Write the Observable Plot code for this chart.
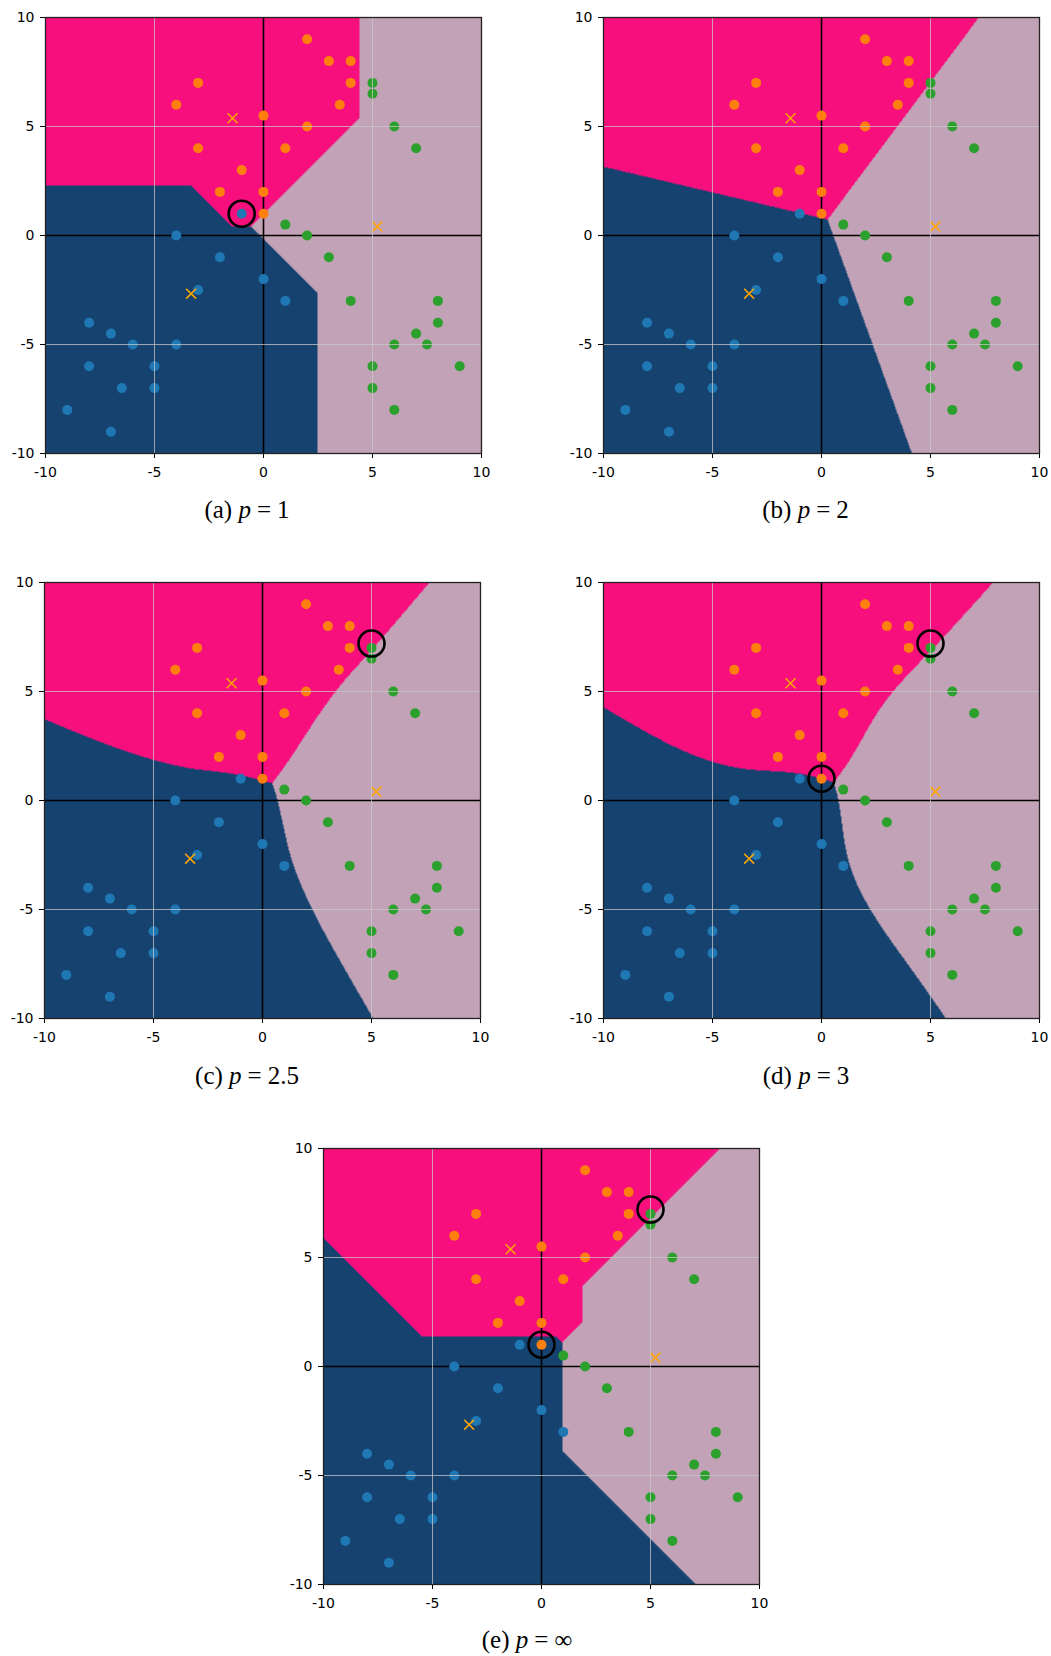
<!DOCTYPE html>
<html><head><meta charset="utf-8">
<script src="https://cdn.jsdelivr.net/npm/d3@7"></script>
<script src="https://cdn.jsdelivr.net/npm/@observablehq/plot@0.6"></script>
<style>
html,body{margin:0;padding:0;background:#fff;overflow:hidden;}
#root{position:relative;width:1051px;height:1656px;}
.panel{position:absolute;}
.cap{position:absolute;width:300px;text-align:center;font-family:"Liberation Serif","DejaVu Serif",serif;font-size:25px;line-height:25px;color:#000;white-space:nowrap;}
.cap i{font-style:italic;}
.cap .eq{padding:0 6px;}
</style></head><body><div id="root"></div>
<script>
// ---- data ----
const classNames = ["class A", "class B", "class C"]; // blue, orange, green
const blueX = [-1, -4, -2, -3, 0, 1, -8, -7, -6, -4, -8, -5, -6.5, -5, -9, -7];
const blueY = [1, 0, -1, -2.5, -2, -3, -4, -4.5, -5, -5, -6, -6, -7, -7, -8, -9];
const orangeX = [2, 3, 4, 4, 3.5, -3, -4, -3, 0, 2, 1, -1, -2, 0, 0];
const orangeY = [9, 8, 8, 7, 6, 7, 6, 4, 5.5, 5, 4, 3, 2, 2, 1];
const greenX = [5, 5, 6, 7, 1, 2, 3, 4, 8, 8, 7, 6, 7.5, 5, 5, 9, 6];
const greenY = [7, 6.5, 5, 4, 0.5, 0, -1, -3, -3, -4, -4.5, -5, -5, -6, -7, -6, -8];
// prototypes (x markers), in class order blue, orange, green
const protoX = [-3.32, -1.42, 5.22];
const protoY = [-2.67, 5.38, 0.41];
// panels: metric p and highlighted points
const pValues = [1, 2, 2.5, 3, Infinity];
const pLabels = ["1", "2", "2.5", "3", "∞"];
const panelIds = ["a", "b", "c", "d", "e"];
const highlightX = [[-1], [], [5], [5, 0], [5, 0]];
const highlightY = [[1], [], [7.2], [7.2, 1], [7.2, 1]];
const tickValues = [-10, -5, 0, 5, 10];

// ---- styles / layout ----
const regionColors = ["#16426F", "#F80F7E", "#C2A2B6"];
const pointColors = ["#1f77b4", "#ff7f0e", "#2ca02c"];
const frameLeft = [44.7, 602.6, 44.3, 603, 323.3];
const frameTop = [16.7, 16.7, 582.4, 582.4, 1148.3];
const capCenter = [247, 805.5, 247, 806, 527];
const capBaseline = [518, 518, 1084, 1084, 1648];
const FW = 436, FH = 436;
const ML = 50, MT = 18, MR = 12, MB = 40;

function classify(x, y, p) {
  let best = 0, bd = Infinity;
  for (let i = 0; i < protoX.length; i++) {
    const dx = Math.abs(x - protoX[i]), dy = Math.abs(y - protoY[i]);
    const d = p === Infinity ? Math.max(dx, dy) : Math.pow(dx, p) + Math.pow(dy, p);
    if (d < bd) { bd = d; best = i; }
  }
  return classNames[best];
}

const toPts = (xs, ys) => xs.map((x, i) => ({x, y: ys[i]}));
const bluePts = toPts(blueX, blueY);
const orangePts = toPts(orangeX, orangeY);
const greenPts = toPts(greenX, greenY);
const protoPts = toPts(protoX, protoY);

const root = document.getElementById("root");

pValues.forEach((p, k) => {
  const circ = toPts(highlightX[k], highlightY[k]);
  const plot = Plot.plot({
    width: ML + FW + MR,
    height: MT + FH + MB,
    marginLeft: ML, marginTop: MT, marginRight: MR, marginBottom: MB,
    style: {fontFamily: "DejaVu Sans", fontSize: "14px", color: "#000", background: "transparent", overflow: "visible"},
    x: {domain: [-10, 10], ticks: tickValues, tickFormat: d => String(d), tickSize: 5, tickPadding: 9, label: null},
    y: {domain: [-10, 10], ticks: tickValues, tickFormat: d => String(d), tickSize: 5, tickPadding: 6, label: null},
    color: {type: "ordinal", domain: classNames, range: regionColors},
    marks: [
      Plot.raster({x1: -10, y1: -10, x2: 10, y2: 10, fill: (x, y) => classify(x, y, p), pixelSize: 1}),
      Plot.ruleX([0], {stroke: "#000", strokeWidth: 1.6}),
      Plot.ruleY([0], {stroke: "#000", strokeWidth: 1.6}),
      Plot.dot(bluePts, {x: "x", y: "y", r: 5, fill: pointColors[0], stroke: "none"}),
      Plot.dot(orangePts, {x: "x", y: "y", r: 5, fill: pointColors[1], stroke: "none"}),
      Plot.dot(greenPts, {x: "x", y: "y", r: 5, fill: pointColors[2], stroke: "none"}),
      Plot.dot(protoPts, {x: "x", y: "y", r: 4.6, symbol: "times", stroke: "orange", strokeWidth: 1.6}),
      Plot.ruleX([-5, 5], {stroke: "#c8c8c8", strokeOpacity: 0.75, strokeWidth: 1}),
      Plot.ruleY([-5, 5], {stroke: "#c8c8c8", strokeOpacity: 0.75, strokeWidth: 1}),
      Plot.dot(circ, {x: "x", y: "y", r: 13, fill: "none", stroke: "#000", strokeWidth: 2.6}),
      Plot.frame({stroke: "#222", strokeWidth: 1.3})
    ]
  });
  plot.classList.add("panel");
  plot.style.left = (frameLeft[k] - ML) + "px";
  plot.style.top = (frameTop[k] - MT) + "px";
  root.appendChild(plot);

  const cap = document.createElement("div");
  cap.className = "cap";
  cap.innerHTML = "(" + panelIds[k] + ") <i>p</i><span class=\"eq\">=</span>" + pLabels[k];
  cap.style.left = (capCenter[k] - 150) + "px";
  cap.style.top = (capBaseline[k] - 21) + "px";
  root.appendChild(cap);
});
</script></body></html>
